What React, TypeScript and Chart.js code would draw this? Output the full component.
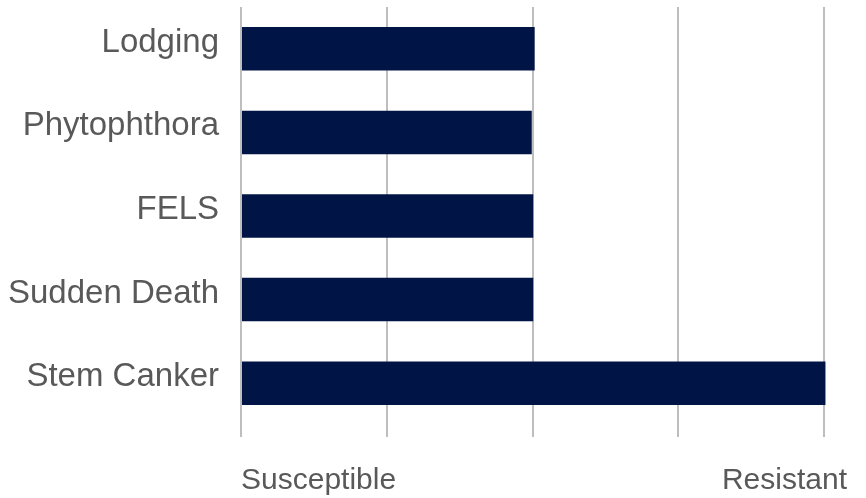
import React, { useEffect, useRef } from "react";
import { Chart, registerables } from "chart.js";

Chart.register(...registerables);

const categories = ["Lodging", "Phytophthora", "FELS", "Sudden Death", "Stem Canker"];
const ratings = [5.03, 4.99, 5.01, 5.01, 9.02];
const xMin = 1;
const xMax = 9;
const xStep = 2;
const xEndLabels = ["Susceptible", "Resistant"];

const FONT = "'Liberation Sans', Arial, Helvetica, sans-serif";
const TEXT = "#595959";

const endLabelsPlugin = {
  id: "endLabels",
  afterDraw(chart: any) {
    const { ctx, chartArea } = chart;
    const xs = chart.scales.x;
    ctx.save();
    ctx.font = `30px ${FONT}`;
    ctx.fillStyle = TEXT;
    ctx.textBaseline = "alphabetic";
    const y = chartArea.bottom + 64;
    ctx.textAlign = "left";
    ctx.fillText(xEndLabels[0], xs.getPixelForValue(xMin), y);
    ctx.textAlign = "right";
    ctx.fillText(xEndLabels[1], xs.getPixelForValue(xMax) + 23, y);
    ctx.restore();
  },
};

export default function App() {
  const ref = useRef<HTMLCanvasElement>(null);
  useEffect(() => {
    if (!ref.current) return;
    const chart = new Chart(ref.current, {
      type: "bar",
      data: {
        labels: categories,
        datasets: [
          {
            data: ratings,
            base: xMin,
            backgroundColor: "#001446",
            borderWidth: 0,
            categoryPercentage: 1,
            barPercentage: 0.52,
            clip: false as any,
          } as any,
        ],
      },
      options: {
        indexAxis: "y",
        animation: false,
        responsive: true,
        maintainAspectRatio: false,
        layout: { padding: { top: 7, right: 42, bottom: 61, left: 0 } },
        plugins: { legend: { display: false }, tooltip: { enabled: false } },
        scales: {
          x: {
            min: xMin,
            max: xMax,
            ticks: { stepSize: xStep, display: false },
            grid: { color: "#BEBEBE", lineWidth: 2, drawTicks: true, tickLength: 12 },
            border: { display: false },
            afterFit(scale: any) {
              scale.paddingLeft = 0;
              scale.paddingRight = 0;
            },
          },
          y: {
            grid: { display: false, drawTicks: false },
            border: { display: false },
            ticks: {
              color: TEXT,
              font: { family: FONT, size: 33 },
              padding: 22,
              labelOffset: -6,
            },
            afterFit(scale: any) {
              scale.width = 241;
              scale.paddingTop = 0;
              scale.paddingBottom = 0;
            },
          },
        },
      },
      plugins: [endLabelsPlugin],
    });
    return () => chart.destroy();
  }, []);
  return (
    <div style={{ position: "absolute", left: 0, top: 0, width: 866, height: 498 }}>
      <canvas ref={ref} />
    </div>
  );
}
